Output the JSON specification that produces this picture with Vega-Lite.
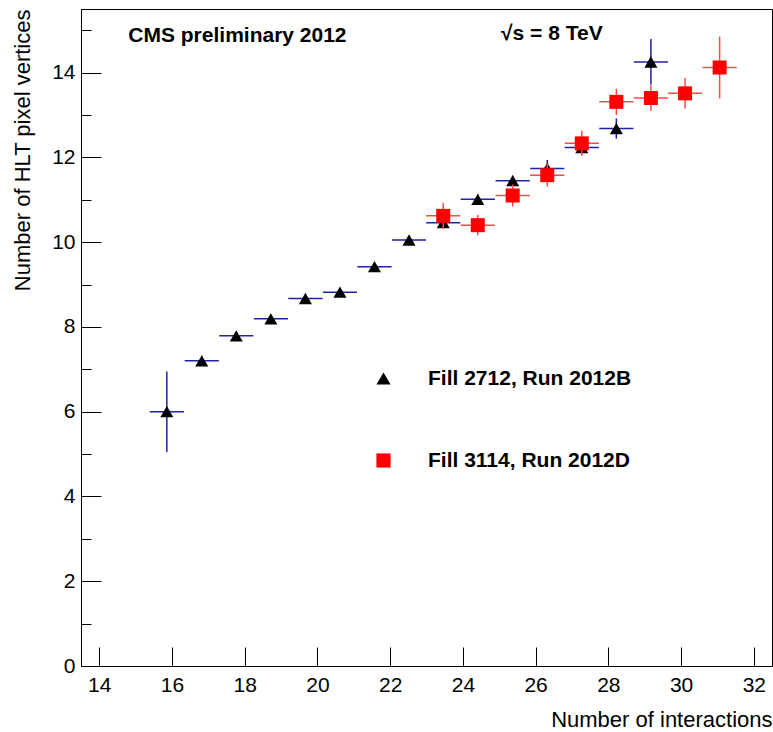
{
  "$schema": "https://vega.github.io/schema/vega-lite/v6.json",
  "autosize": "none",
  "padding": {"left": 81, "top": 9, "right": 1, "bottom": 66},
  "width": 691,
  "height": 657,
  "background": "white",
  "datasets": {
    "points": [
      {"series": "Fill 2712, Run 2012B", "x": 15.86, "y": 6.00, "yerr": 0.95, "xerr": 0.47},
      {"series": "Fill 2712, Run 2012B", "x": 16.82, "y": 7.20, "yerr": 0.12, "xerr": 0.47},
      {"series": "Fill 2712, Run 2012B", "x": 17.77, "y": 7.79, "yerr": 0.08, "xerr": 0.47},
      {"series": "Fill 2712, Run 2012B", "x": 18.72, "y": 8.19, "yerr": 0.08, "xerr": 0.47},
      {"series": "Fill 2712, Run 2012B", "x": 19.67, "y": 8.67, "yerr": 0.07, "xerr": 0.47},
      {"series": "Fill 2712, Run 2012B", "x": 20.62, "y": 8.82, "yerr": 0.08, "xerr": 0.47},
      {"series": "Fill 2712, Run 2012B", "x": 21.57, "y": 9.42, "yerr": 0.07, "xerr": 0.47},
      {"series": "Fill 2712, Run 2012B", "x": 22.52, "y": 10.05, "yerr": 0.08, "xerr": 0.47},
      {"series": "Fill 2712, Run 2012B", "x": 23.46, "y": 10.46, "yerr": 0.12, "xerr": 0.47},
      {"series": "Fill 2712, Run 2012B", "x": 24.41, "y": 11.01, "yerr": 0.12, "xerr": 0.47},
      {"series": "Fill 2712, Run 2012B", "x": 25.37, "y": 11.45, "yerr": 0.12, "xerr": 0.47},
      {"series": "Fill 2712, Run 2012B", "x": 26.32, "y": 11.74, "yerr": 0.2, "xerr": 0.47},
      {"series": "Fill 2712, Run 2012B", "x": 27.27, "y": 12.23, "yerr": 0.15, "xerr": 0.47},
      {"series": "Fill 2712, Run 2012B", "x": 28.22, "y": 12.68, "yerr": 0.24, "xerr": 0.47},
      {"series": "Fill 2712, Run 2012B", "x": 29.17, "y": 14.25, "yerr": 0.54, "xerr": 0.47},
      {"series": "Fill 3114, Run 2012D", "x": 23.46, "y": 10.62, "yerr": 0.31, "xerr": 0.47},
      {"series": "Fill 3114, Run 2012D", "x": 24.41, "y": 10.40, "yerr": 0.24, "xerr": 0.47},
      {"series": "Fill 3114, Run 2012D", "x": 25.37, "y": 11.10, "yerr": 0.26, "xerr": 0.47},
      {"series": "Fill 3114, Run 2012D", "x": 26.32, "y": 11.58, "yerr": 0.27, "xerr": 0.47},
      {"series": "Fill 3114, Run 2012D", "x": 27.27, "y": 12.33, "yerr": 0.30, "xerr": 0.47},
      {"series": "Fill 3114, Run 2012D", "x": 28.22, "y": 13.31, "yerr": 0.31, "xerr": 0.47},
      {"series": "Fill 3114, Run 2012D", "x": 29.17, "y": 13.40, "yerr": 0.30, "xerr": 0.47},
      {"series": "Fill 3114, Run 2012D", "x": 30.11, "y": 13.51, "yerr": 0.36, "xerr": 0.47},
      {"series": "Fill 3114, Run 2012D", "x": 31.06, "y": 14.12, "yerr": 0.73, "xerr": 0.47}
    ],
    "labels": [
      {"label": "CMS preliminary 2012", "lx": 14.8, "ly": 14.73},
      {"label": "√s = 8 TeV", "lx": 25.05, "ly": 14.77}
    ]
  },
  "layer": [
    {
      "data": {"name": "points"},
      "transform": [{"filter": "datum.series === 'Fill 2712, Run 2012B'"}],
      "mark": {"type": "errorbar", "color": "#2020a8", "thickness": 1.5},
      "encoding": {
        "x": {
          "field": "x", "type": "quantitative", "title": "Number of interactions",
          "scale": {"domain": [13.5, 32.5], "nice": false, "zero": false},
          "axis": {
            "values": [14, 14.5, 15, 15.5, 16, 16.5, 17, 17.5, 18, 18.5, 19, 19.5, 20, 20.5, 21, 21.5, 22, 22.5, 23, 23.5, 24, 24.5, 25, 25.5, 26, 26.5, 27, 27.5, 28, 28.5, 29, 29.5, 30, 30.5, 31, 31.5, 32],
            "format": "~g",
            "labelExpr": "datum.value % 2 === 0 ? datum.label : ''",
            "tickSize": {"condition": {"test": "datum.value % 2 === 0", "value": -19}, "value": -9},
            "labelPadding": 27,
            "labelFontSize": 21,
            "titleFontSize": 22,
            "titleAnchor": "end",
            "titleAlign": "right",
            "titlePadding": 14,
            "labelOverlap": false
          }
        },
        "y": {
          "field": "y", "type": "quantitative", "title": "Number of HLT pixel vertices",
          "scale": {"domain": [0, 15.5], "nice": false, "zero": true},
          "axis": {
            "values": [0, 0.5, 1, 1.5, 2, 2.5, 3, 3.5, 4, 4.5, 5, 5.5, 6, 6.5, 7, 7.5, 8, 8.5, 9, 9.5, 10, 10.5, 11, 11.5, 12, 12.5, 13, 13.5, 14, 14.5, 15],
            "format": "~g",
            "labelExpr": "datum.value % 2 === 0 ? datum.label : ''",
            "tickSize": {"condition": {"test": "datum.value % 2 === 0", "value": -20}, "value": -10},
            "labelPadding": 26,
            "labelFontSize": 21,
            "titleFontSize": 22,
            "titleAnchor": "end",
            "titleAlign": "right",
            "titlePadding": 17,
            "labelOverlap": false
          }
        },
        "yError": {"field": "yerr"}
      }
    },
    {
      "data": {"name": "points"},
      "transform": [{"filter": "datum.series === 'Fill 2712, Run 2012B'"}],
      "mark": {"type": "errorbar", "color": "#2020a8", "thickness": 1.5},
      "encoding": {
        "x": {"field": "x", "type": "quantitative", "title": "Number of interactions"},
        "xError": {"field": "xerr"},
        "y": {"field": "y", "type": "quantitative", "title": "Number of HLT pixel vertices"}
      }
    },
    {
      "data": {"name": "points"},
      "transform": [{"filter": "datum.series === 'Fill 2712, Run 2012B'"}],
      "mark": {"type": "point", "filled": true, "opacity": 1, "size": 170},
      "encoding": {
        "x": {"field": "x", "type": "quantitative", "title": "Number of interactions"},
        "y": {"field": "y", "type": "quantitative", "title": "Number of HLT pixel vertices"},
        "color": {"field": "series", "type": "nominal", "scale": {"domain": ["Fill 2712, Run 2012B", "Fill 3114, Run 2012D"], "range": ["#000000", "#ff0000"]}, "legend": {"title": null}},
        "shape": {"field": "series", "type": "nominal", "scale": {"domain": ["Fill 2712, Run 2012B", "Fill 3114, Run 2012D"], "range": ["triangle-up", "square"]}, "legend": {"title": null}}
      }
    },
    {
      "data": {"name": "points"},
      "transform": [{"filter": "datum.series === 'Fill 3114, Run 2012D'"}],
      "mark": {"type": "errorbar", "color": "#ff4a4a", "thickness": 1.5},
      "encoding": {
        "x": {"field": "x", "type": "quantitative", "title": "Number of interactions"},
        "y": {"field": "y", "type": "quantitative", "title": "Number of HLT pixel vertices"},
        "yError": {"field": "yerr"}
      }
    },
    {
      "data": {"name": "points"},
      "transform": [{"filter": "datum.series === 'Fill 3114, Run 2012D'"}],
      "mark": {"type": "errorbar", "color": "#ff4a4a", "thickness": 1.5},
      "encoding": {
        "x": {"field": "x", "type": "quantitative", "title": "Number of interactions"},
        "xError": {"field": "xerr"},
        "y": {"field": "y", "type": "quantitative", "title": "Number of HLT pixel vertices"}
      }
    },
    {
      "data": {"name": "points"},
      "transform": [{"filter": "datum.series === 'Fill 3114, Run 2012D'"}],
      "mark": {"type": "point", "filled": true, "opacity": 1, "size": 196},
      "encoding": {
        "x": {"field": "x", "type": "quantitative", "title": "Number of interactions"},
        "y": {"field": "y", "type": "quantitative", "title": "Number of HLT pixel vertices"},
        "color": {"field": "series", "type": "nominal", "scale": {"domain": ["Fill 2712, Run 2012B", "Fill 3114, Run 2012D"], "range": ["#000000", "#ff0000"]}, "legend": {"title": null}},
        "shape": {"field": "series", "type": "nominal", "scale": {"domain": ["Fill 2712, Run 2012B", "Fill 3114, Run 2012D"], "range": ["triangle-up", "square"]}, "legend": {"title": null}}
      }
    },
    {
      "data": {"name": "labels"},
      "mark": {"type": "text", "align": "left", "baseline": "alphabetic", "font": "Liberation Sans", "fontWeight": "bold", "fontSize": 21, "color": "black"},
      "encoding": {
        "x": {"field": "lx", "type": "quantitative", "title": "Number of interactions"},
        "y": {"field": "ly", "type": "quantitative", "title": "Number of HLT pixel vertices"},
        "text": {"field": "label"}
      }
    }
  ],
  "config": {
    "font": "Liberation Sans",
    "view": {"stroke": "black", "strokeWidth": 1},
    "axis": {
      "grid": false,
      "domainColor": "black",
      "domainWidth": 1,
      "tickColor": "black",
      "tickWidth": 1,
      "labelColor": "black",
      "titleColor": "black",
      "labelFont": "Liberation Sans",
      "titleFont": "Liberation Sans",
      "titleFontWeight": "normal"
    },
    "legend": {
      "orient": "none",
      "legendX": 292,
      "legendY": 359,
      "padding": 0,
      "symbolSize": 200,
      "symbolStrokeWidth": 0,
      "labelFontSize": 21,
      "labelFontWeight": "bold",
      "labelFont": "Liberation Sans",
      "labelColor": "black",
      "labelOffset": 34,
      "rowPadding": 60,
      "labelLimit": 400
    }
  }
}
